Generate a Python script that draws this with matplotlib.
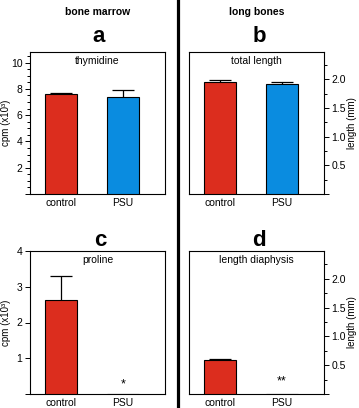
import matplotlib
matplotlib.use("Agg")
import matplotlib.pyplot as plt
from matplotlib.ticker import MultipleLocator, FormatStrFormatter
from matplotlib.lines import Line2D

plt.rcParams['font.family'] = ['Liberation Sans', 'DejaVu Sans']

groups = ["control", "PSU"]
thymidine = [7.6, 7.35]
thymidine_err = [0.1, 0.58]
total_length = [1.95, 1.92]
total_length_err = [0.04, 0.04]
proline = [2.63, 0.0]
proline_err = [0.67, 0.0]
diaphysis = [0.59, 0.0]
diaphysis_err = [0.01, 0.0]

RED = "#DC2D1E"
BLUE = "#0A8CE0"
colors = [RED, BLUE]

W, H = 359, 408
fig = plt.figure(figsize=(W / 100, H / 100), dpi=100)

def rect(l, r, t, b):
    return [l / W, (H - b) / H, (r - l) / W, (b - t) / H]

axA = fig.add_axes(rect(30, 165, 52, 194))
axB = fig.add_axes(rect(189, 324, 52, 194))
axC = fig.add_axes(rect(30, 165, 251, 394))
axD = fig.add_axes(rect(189, 324, 251, 394))

x = [0, 1]
FS = 7.5

def draw(ax, vals, errs, cols, ylim, major, minor, fmt, right, inner, ylabel):
    ax.bar(x, vals, width=0.52, color=cols, edgecolor="black", linewidth=0.8, zorder=3)
    for xi, v, e in zip(x, vals, errs):
        if v > 0:
            ax.errorbar([xi], [v], yerr=[e], fmt="none", ecolor="black",
                        elinewidth=0.9, capsize=8, capthick=0.9, zorder=2)
    ax.set_xlim(-0.5, 1.68)
    ax.set_ylim(*ylim)
    ax.set_xticks(x)
    ax.set_xticklabels(groups, fontsize=FS)
    ax.tick_params(axis="x", length=0, pad=3)
    ax.yaxis.set_major_locator(MultipleLocator(major))
    if minor:
        ax.yaxis.set_minor_locator(MultipleLocator(minor))
    ax.yaxis.set_major_formatter(FormatStrFormatter(fmt))
    if right:
        ax.yaxis.tick_right()
        ax.yaxis.set_label_position("right")
    ax.tick_params(axis="y", which="major", length=3.5, width=0.7, labelsize=FS, pad=2)
    ax.tick_params(axis="y", which="minor", length=2.5, width=0.7)
    for s in ax.spines.values():
        s.set_linewidth(0.8)
    ax.text(0.5, 0.94, inner, transform=ax.transAxes, ha="center", va="center", fontsize=FS)
    ax.set_ylabel(ylabel, fontsize=7, rotation=90, va="center", ha="center")
    if right:
        ax.yaxis.set_label_coords((352 - 189) / 135, 0.5)
    else:
        ax.yaxis.set_label_coords((6 - 30) / 135, 0.5)
    for lab, t in zip(ax.get_yticklabels(), ax.get_yticks()):
        if abs(t) < 1e-9:
            lab.set_visible(False)
    return ax

draw(axA, thymidine, thymidine_err, colors, (0, 10.8), 2, 0.5, "%d", False, "thymidine", "cpm (x10³)")
draw(axB, total_length, total_length_err, colors, (0, 2.48), 0.5, 0.25, "%.1f", True, "total length", "length (mm)")
draw(axC, proline, proline_err, colors, (0, 4.0), 1, None, "%d", False, "proline", "cpm (x10³)")
draw(axD, diaphysis, diaphysis_err, colors, (0, 2.48), 0.5, 0.25, "%.1f", True, "length diaphysis", "length (mm)")

axC.text(1, 0.28, "*", ha="center", va="center", fontsize=9)
axD.text(1, 0.21, "**", ha="center", va="center", fontsize=9)

fig.text(97.5 / W, 1 - 12 / H, "bone marrow", ha="center", va="center", fontsize=7.5, fontweight="bold")
fig.text(257 / W, 1 - 12 / H, "long bones", ha="center", va="center", fontsize=7.5, fontweight="bold")
for lbl, xx, yy in [("a", 99, 37), ("b", 259, 37), ("c", 100, 240), ("d", 259, 240)]:
    fig.text(xx / W, 1 - yy / H, lbl, ha="center", va="center", fontsize=16, fontweight="bold")

fig.add_artist(Line2D([178 / W, 178 / W], [1 - 1 / H, 0], transform=fig.transFigure,
                      color="black", linewidth=2.3))

fig.savefig("out.png", dpi=100, facecolor="white")
